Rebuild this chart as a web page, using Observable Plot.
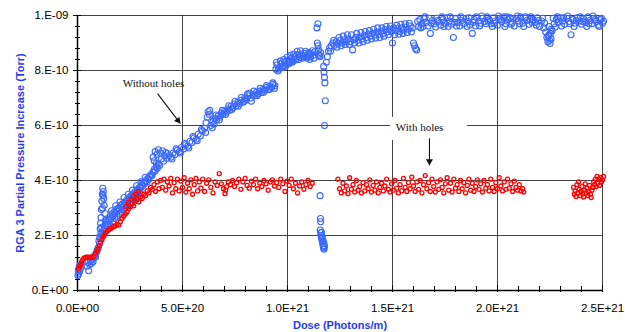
<!DOCTYPE html>
<html><head><meta charset="utf-8">
<script src="https://cdn.jsdelivr.net/npm/d3@7"></script>
<script src="https://cdn.jsdelivr.net/npm/@observablehq/plot@0.6"></script>
<style>html,body{margin:0;padding:0;background:#fff;}</style>
</head><body><div id="chart"></div>
<script>
// Units: x in 1E20 photons/m, y in 1E-10 Torr
const xTicks = [0, 5, 10, 15, 20, 25];
const xTickLabels = ["0.0E+00", "5.0E+20", "1.0E+21", "1.5E+21", "2.0E+21", "2.5E+21"];
const xMinorTicks = [1,2,3,4,6,7,8,9,11,12,13,14,16,17,18,19,21,22,23,24];
const yTicks = [0, 2, 4, 6, 8, 10];
const yTickLabels = ["0.E+00", "2.E-10", "4.E-10", "6.E-10", "8.E-10", "1.E-09"];
const yMinorTicks = [0.4,0.8,1.2,1.6,2.4,2.8,3.2,3.6,4.4,4.8,5.2,5.6,6.4,6.8,7.2,7.6,8.4,8.8,9.2,9.6];
const xLabel = "Dose (Photons/m)";
const yLabel = "RGA 3 Partial Pressure Increase (Torr)";

// "Without holes" series
const blueStart = [[0.02,0.55],[0.04,0.72],[0.06,0.62],[0.08,0.85],[0.1,0.7],[0.12,0.92],[0.14,0.8],[0.18,0.95],[0.45,0.88],[0.5,1.02],[0.53,0.72],[0.58,0.95],[0.62,1.08],[0.66,0.98],[0.7,1.12],[0.74,1.05],[0.78,1.2],[0.82,1.28],[0.86,1.22],[0.9,1.38],[0.94,1.45],[0.98,1.55]];
const blueSpike = [[1.05,1.7],[1.08,2.25],[1.1,2.45],[1.12,2.65],[1.14,2.95],[1.16,3.25],[1.18,3.5],[1.2,3.72],[1.23,3.6],[1.25,3.35],[1.27,3.1],[1.3,2.8],[1.33,2.55],[1.12,2.1],[1.15,2.3],[1.19,3.0],[1.22,3.45]];
const blueRise = [[1.02,1.8],[1.06,1.95],[1.1,1.88],[1.15,2.05],[1.2,2.0],[1.24,2.18],[1.28,2.25],[1.32,2.4],[1.36,2.35],[1.4,2.5],[1.44,2.42],[1.48,2.6],[1.52,2.55],[1.56,2.7],[1.6,2.62],[1.65,2.78],[1.7,2.72],[1.75,2.85],[1.8,2.8],[1.85,2.95],[1.9,2.88],[1.95,3.0],[2.0,2.95],[2.05,3.1],[2.1,3.02],[2.15,3.15],[2.2,3.08],[2.25,3.22],[2.3,3.18],[2.35,3.3],[2.4,3.25],[2.45,3.38],[2.5,3.32],[2.55,3.45],[2.6,3.4],[2.65,3.52],[2.7,3.48],[2.75,3.6],[2.8,3.55],[2.85,3.68],[2.9,3.62],[2.95,3.75],[3.0,3.72],[3.05,3.85],[3.1,3.8],[3.15,3.92],[3.2,3.88],[3.25,4.0],[3.3,3.95],[3.35,4.08],[3.4,4.05],[3.45,4.15],[3.5,4.22],[3.55,4.18],[3.6,4.3],[3.65,4.4],[3.7,4.35],[3.75,4.5],[3.8,4.45],[3.85,4.6],[3.9,4.55],
  [1.58,2.35],[1.68,2.5],[1.78,2.62],[1.88,2.7],[1.98,2.78],[2.08,2.85],[2.18,2.95],[2.28,3.0],[2.38,3.08],[2.48,3.15],[2.58,3.22],[2.68,3.3],[2.78,3.4],[2.88,3.5],[2.98,3.55],[1.62,2.9],[1.82,3.08],[2.02,3.22],[2.22,3.38],[2.42,3.5],[2.62,3.65],[2.82,3.82],[3.02,3.95],[3.22,4.12]];
const blueBump = [[3.6,4.85],[3.7,5.05],[3.78,4.95],[3.85,5.12],[3.95,5.0],[4.05,5.08],[4.15,4.9],[4.2,5.02],[3.65,4.72],[3.75,4.62],[4.0,4.78],[4.1,4.7]];
const blueMid = [[4.25,4.8],[4.35,4.9],[4.45,4.85],[4.55,5.0],[4.65,4.95],[4.75,5.1],[4.85,5.05],[4.95,5.2],[5.05,5.15],[5.15,5.3],[5.25,5.25],[5.35,5.42],[5.45,5.38],[5.55,5.55],[5.65,5.5],[5.75,5.68],[5.85,5.62],[5.95,5.8],[6.05,5.9],[6.12,6.1],[6.18,6.3],[6.22,6.5],[6.28,6.4],[6.35,6.0],[6.42,5.92],[6.5,6.05],[6.55,6.25],[6.62,6.2],[6.7,6.35],[6.78,6.3],[6.85,6.45],[6.92,6.4],[7.0,6.52],[7.08,6.48],[7.16,6.6],[7.24,6.55],[7.32,6.7],[7.4,6.65],[7.48,6.78],[7.56,6.72],[7.64,6.85],[7.72,6.8],[7.8,6.92],[7.88,6.85],[7.96,7.0],[8.04,6.95],[8.12,7.08],[8.2,7.18],[8.28,6.88],[8.36,7.12],[8.44,7.08],[8.52,7.2],[8.6,7.15],[8.68,7.25],[8.76,7.2],[8.84,7.32],[8.92,7.28],[9.0,7.38],[9.08,7.3],[9.16,7.42],[9.24,7.38],[9.32,7.5],[9.4,7.45],
  [4.3,4.98],[4.5,4.78],[4.7,5.15],[4.9,5.0],[5.1,5.35],[5.3,5.18],[5.5,5.6],[5.7,5.45],[5.9,5.85],[6.1,5.75],[6.3,6.55],[6.45,6.15],[6.6,6.38],[6.75,6.2],[6.9,6.55],[7.05,6.4],[7.2,6.72],[7.35,6.58],[7.5,6.88],[7.65,6.7],[7.8,7.02],[7.95,6.88],[8.1,7.15],[8.25,7.0],[8.4,7.25],[8.55,7.08],[8.7,7.35],[8.85,7.2],[9.0,7.45],[9.15,7.32],[9.3,7.55],[9.38,7.35]];
const blueHigh1 = [[9.45,8.05],[9.5,8.2],[9.55,7.98],[9.62,8.12],[9.7,8.25],[9.78,8.15],[9.86,8.3],[9.94,8.22],[10.02,8.38],[10.1,8.3],[10.18,8.45],[10.26,8.35],[10.34,8.5],[10.42,8.42],[10.5,8.58],[10.58,8.48],[10.66,8.6],[10.74,8.52],[10.82,8.62],[10.9,8.5],[10.98,8.6],[11.06,8.4],[11.14,8.62],[11.22,8.55],[11.3,8.68],
  [9.48,8.3],[9.58,8.05],[9.66,8.35],[9.74,8.1],[9.82,8.4],[9.9,8.15],[9.98,8.48],[10.06,8.25],[10.14,8.55],[10.22,8.3],[10.3,8.6],[10.38,8.38],[10.46,8.7],[10.54,8.4],[10.62,8.72],[10.7,8.45],[10.78,8.5],[10.86,8.7],[10.94,8.45],[11.02,8.65],[11.1,8.5],[11.18,8.72],[11.26,8.45]];
const blueDip = [[11.4,9.55],[11.45,9.7],[11.42,9.0],[11.45,8.9],[11.48,8.75],[11.5,8.6],[11.52,8.55],[11.55,8.5],[11.58,8.65],
  [11.72,8.15],[11.74,7.95],[11.76,7.75],[11.78,7.55],[11.8,6.9],[11.76,6.0],
  [11.55,3.45],[11.57,2.62],[11.58,2.5],[11.56,2.2],[11.58,2.1],[11.6,2.0],[11.62,1.92],[11.64,1.85],[11.66,1.78],[11.68,1.7],[11.7,1.62],[11.72,1.55],[11.74,1.5],[11.76,1.6],[11.62,2.12],[11.66,1.95],[11.7,1.8],[11.74,1.7]];
const blueHigh2 = [[11.85,8.3],[11.9,8.5],[11.95,8.7],[12.0,8.82],[12.08,8.9],[12.16,9.0],[12.24,8.92],[12.32,9.05],[12.4,8.98],[12.5,9.1],[12.6,9.0],[12.7,9.12],[12.8,9.05],[12.9,9.15],[13.0,9.05],[13.1,8.75],[13.15,9.12],[13.25,9.2],[13.35,9.1],[13.45,9.22],[13.55,9.15],[13.65,9.28],[13.75,9.2],[13.85,9.32],[13.95,9.25],[14.05,9.35],[14.15,9.28],[14.25,9.4],[14.35,9.32],[14.45,9.42],[14.55,9.35],[14.65,9.48],[14.75,9.4],[14.85,9.5],[14.95,9.42],[15.0,9.0],[15.05,9.55],[15.15,9.45],[15.25,9.52],[15.35,9.42],[15.45,9.55],[15.55,9.48],[15.65,9.58],[15.75,9.5],[15.85,9.62],[15.95,9.55],[16.0,9.0],[16.05,8.9],[16.1,8.8],[16.15,8.75],[16.2,9.78],[16.3,9.85],
  [12.05,8.7],[12.2,9.1],[12.35,8.85],[12.45,9.2],[12.55,8.9],[12.65,9.25],[12.75,8.95],[12.85,9.3],[12.95,8.95],[13.05,9.3],[13.2,9.0],[13.3,9.35],[13.4,9.0],[13.5,9.38],[13.6,9.05],[13.7,9.42],[13.8,9.1],[13.9,9.45],[14.0,9.15],[14.1,9.5],[14.2,9.18],[14.3,9.55],[14.4,9.2],[14.5,9.55],[14.6,9.25],[14.7,9.6],[14.8,9.3],[14.9,9.62],[15.1,9.3],[15.2,9.65],[15.3,9.32],[15.4,9.68],[15.5,9.35],[15.6,9.7],[15.7,9.38],[15.8,9.72],[15.9,9.4],[16.25,9.6],[16.35,9.55]];
const blueTop = [[16.4,9.7],[16.5,9.88],[16.6,9.75],[16.7,9.62],[16.8,9.35],[16.9,9.82],[17.0,9.7],[17.1,9.9],[17.2,9.78],[17.3,9.65],[17.4,9.85],[17.5,9.72],[17.6,9.92],[17.7,9.8],[17.8,9.68],[17.9,9.2],[18.0,9.88],[18.1,9.75],[18.2,9.62],[18.3,9.82],[18.4,9.7],[18.5,9.9],[18.6,9.78],[18.7,9.66],[18.8,9.35],[18.9,9.85],[19.0,9.95],[19.1,9.8],[19.2,9.72],[19.3,9.9],[19.4,9.78],[19.5,9.95],[19.6,9.85],[19.7,9.7],[19.8,9.92],[19.9,9.8],[20.0,9.65],[20.1,9.9],[20.2,9.78],[20.3,9.95],[20.4,9.7],[20.5,9.85],[20.6,9.92],[20.7,9.75],[20.8,9.62],[20.9,9.88],[21.0,9.8],[21.1,9.95],[21.2,9.72],[21.3,9.9],[21.4,9.82],[21.5,9.68],[21.6,9.95],[21.7,9.85],[21.8,9.75],[21.9,9.92],[22.0,9.6],[22.1,9.8],[22.2,9.55],[22.3,9.4],[22.35,9.2],[22.4,9.05],[22.45,9.3],[22.5,8.98],[22.55,9.15],[22.6,9.45],[22.65,9.9],[22.7,9.7],[22.8,9.85],[22.9,9.75],[23.0,9.92],[23.1,9.8],[23.2,9.68],[23.3,9.9],[23.4,9.78],[23.5,9.3],[23.6,9.85],[23.7,9.72],[23.8,9.92],[23.9,9.8],[24.0,9.68],[24.1,9.88],[24.2,9.75],[24.3,9.95],[24.4,9.82],[24.5,9.7],[24.6,9.9],[24.7,9.78],[24.8,9.65],[24.9,9.85],[25.0,9.72],[25.05,9.8],
  [16.45,9.6],[16.75,9.9],[17.05,9.58],[17.35,9.95],[17.65,9.6],[17.95,9.75],[18.25,9.95],[18.55,9.6],[18.85,9.75],[19.15,9.62],[19.45,9.7],[19.75,9.6],[20.05,9.98],[20.35,9.6],[20.65,9.68],[20.95,9.98],[21.25,9.6],[21.55,9.85],[21.85,9.65],[22.15,9.9],[22.45,9.6],[22.75,9.58],[23.05,9.62],[23.35,9.98],[23.65,9.6],[23.95,9.95],[24.25,9.6],[24.55,9.98],[24.85,9.6],
  [16.55,9.95],[16.85,9.72],[17.15,9.82],[17.45,9.6],[17.75,9.95],[18.05,9.62],[18.35,9.9],[18.65,9.92],[18.95,9.62],[19.25,9.98],[19.55,9.8],[19.85,9.72],[20.15,9.85],[20.45,9.95],[20.75,9.88],[21.05,9.7],[21.35,9.95],[21.65,9.75],[21.95,9.82],[22.25,9.72],[22.55,9.5],[22.42,9.25],[22.48,9.1],[22.52,9.35],[22.85,9.95],[23.15,9.92],[23.45,9.7],[23.75,9.82],[24.05,9.78],[24.35,9.7],[24.65,9.85],[24.95,9.9]];

// "With holes" series
const redStart = [[0.05,0.8],[0.1,0.88],[0.15,0.95],[0.2,1.05],[0.25,1.12],[0.3,1.18],[0.38,1.2],[0.46,1.22],[0.54,1.2],[0.62,1.21],[0.7,1.2],[0.78,1.25],[0.86,1.35],[0.92,1.45],[0.98,1.52],[1.04,1.62],[1.1,1.75],[1.16,1.85],[1.22,1.95],[1.28,2.02],[1.34,2.1],[1.4,2.15],[1.48,2.2],[1.56,2.25],[1.64,2.28],[1.72,2.32],[1.8,2.35],[1.88,2.4],[1.96,2.38],[2.04,2.5],[2.12,2.62],[2.2,2.7],[2.28,2.78],[2.36,2.85],[2.44,2.98],[2.52,3.05],[2.6,3.15],[2.68,3.08],[2.76,3.25],[2.84,3.3],[2.92,3.22],[3.0,3.4],[3.08,3.35],[3.16,3.5],[3.24,3.45],[3.32,3.62],[3.4,3.55],[3.48,3.75],[3.56,3.68],[3.64,3.85],[3.72,3.6],[3.8,3.95],[3.88,3.7],[3.96,4.0],[4.04,3.75],[4.12,4.05],[4.2,3.65],[4.28,3.95],[4.36,3.8],[4.44,4.08],[4.52,3.55],[4.6,3.92],[4.68,3.7],[4.76,4.05],[4.84,3.62],[4.92,3.98],[5.0,3.75],[5.08,4.1],[5.16,3.58],[5.24,3.9],[5.32,3.7],[5.4,4.02],[5.48,3.5],[5.56,3.85],[5.64,4.08],[5.72,3.62],[5.8,3.95],[5.88,3.72],[5.96,4.05],
  [2.3,3.05],[2.42,3.2],[2.54,3.3],[2.66,3.42],[2.78,3.5],[2.9,3.6]];
const redMid = [[6.05,3.6],[6.15,3.9],[6.25,4.02],[6.35,3.75],[6.45,3.55],[6.55,3.95],[6.65,3.82],[6.75,4.25],[6.85,3.88],[6.95,3.7],[7.02,3.52],[7.06,3.65],[7.1,3.78],[7.18,3.95],[7.28,3.85],[7.38,4.0],[7.48,3.78],[7.58,3.92],[7.68,4.05],[7.78,3.68],[7.88,3.95],[7.98,4.08],[8.08,3.82],[8.18,3.72],[8.28,3.98],[8.38,3.85],[8.48,4.05],[8.58,3.7],[8.68,3.9],[8.78,3.78],[8.88,4.0],[8.98,3.88],[9.08,3.65],[9.18,3.95],[9.28,4.02],[9.38,3.8],[9.48,3.92],[9.58,3.75],[9.68,4.05],[9.78,3.88],[9.88,3.6],[9.98,3.98],[10.08,3.82],[10.18,4.05],[10.28,3.7],[10.38,3.9],[10.48,3.55],[10.58,3.8],[10.68,3.95],[10.78,3.68],[10.88,3.85],[10.98,4.0],[11.08,3.78],[11.18,3.9]];
const redRight = [[12.4,4.05],[12.48,3.7],[12.56,3.55],[12.64,3.9],[12.72,3.62],[12.8,3.8],[12.88,3.52],[12.96,4.1],[13.04,3.68],[13.12,3.85],[13.2,3.58],[13.28,4.0],[13.36,3.65],[13.44,3.78],[13.52,3.55],[13.6,3.92],[13.68,3.62],[13.76,3.85],[13.84,3.7],[13.92,4.02],[14.0,3.58],[14.08,3.82],[14.16,3.65],[14.24,3.95],[14.32,3.55],[14.4,3.75],[14.48,3.9],[14.56,3.62],[14.64,3.8],[14.72,4.05],[14.8,3.68],[14.88,3.58],[14.96,3.88],[15.04,3.65],[15.12,4.0],[15.2,3.72],[15.28,3.55],[15.36,3.85],[15.44,3.62],[15.52,4.08],[15.6,3.75],[15.68,3.6],[15.76,3.92],[15.84,3.7],[15.92,4.12],[16.0,3.8],[16.08,3.6],[16.16,3.95],[16.24,3.68],[16.32,4.0],[16.4,3.55],[16.48,3.85],[16.56,4.18],[16.64,3.7],[16.72,3.92],[16.8,3.6],[16.88,4.05],[16.96,3.78],[17.04,3.58],[17.12,3.95],[17.2,3.68],[17.28,4.02],[17.36,3.75],[17.44,3.55],[17.52,3.88],[17.6,4.1],[17.68,3.65],[17.76,3.9],[17.84,3.58],[17.92,4.05],[18.0,3.72],[18.08,3.85],[18.16,3.6],[18.24,4.0],[18.32,3.7],[18.4,3.92],[18.48,3.55],[18.56,3.82],[18.64,4.05],[18.72,3.65],[18.8,3.9],[18.88,3.6],[18.96,3.78],[19.04,4.02],[19.12,3.68],[19.2,3.88],[19.28,3.58],[19.36,4.0],[19.44,3.72],[19.52,3.85],[19.6,3.62],[19.68,4.05],[19.76,3.75],[19.84,3.6],[19.92,3.92],[20.0,3.7],[20.08,4.1],[20.16,3.8],[20.24,3.62],[20.32,3.95],[20.4,3.68],[20.48,4.05],[20.56,3.72],[20.64,3.88],[20.72,3.6],[20.8,3.98],[20.88,3.75],[20.96,3.65],[21.04,3.85],[21.12,3.62],[21.2,3.7],[21.25,3.58]];
const redEnd = [[23.62,3.75],[23.66,3.5],[23.7,3.62],[23.74,3.42],[23.78,3.85],[23.82,3.55],[23.86,3.95],[23.9,3.68],[23.94,3.45],[23.98,3.6],[24.02,3.78],[24.06,3.52],[24.1,3.4],[24.14,3.65],[24.18,3.88],[24.22,3.55],[24.26,3.72],[24.3,3.45],[24.34,3.6],[24.38,3.82],[24.42,3.5],[24.46,3.38],[24.5,3.65],[24.54,3.75],[24.58,3.95],[24.62,3.85],[24.66,4.05],[24.7,3.78],[24.74,4.15],[24.78,3.9],[24.82,4.05],[24.86,3.82],[24.9,4.1],[24.95,3.95],[25.0,4.02],[25.05,4.15]];

// annotations (data units)
const noteText = ["Without holes", "With holes"];
const noteX = [3.62, 16.29];
const noteY = [7.53, 5.93];
const arrowFrom = [[3.81, 7.16], [16.76, 5.53]];
const arrowTo = [[4.9, 6.07], [16.76, 4.55]];

const rows = (pairs) => pairs.map(([x, y]) => ({x, y}));
const blue = rows([...blueStart, ...blueSpike, ...blueRise, ...blueBump, ...blueMid, ...blueHigh1, ...blueDip, ...blueHigh2, ...blueTop]);
const red = rows([...redStart, ...redMid, ...redRight, ...redEnd]);
const notes = noteText.map((t, i) => ({t, x: noteX[i], y: noteY[i]}));
const arrows = arrowFrom.map((f, i) => ({x1: f[0], y1: f[1], x2: arrowTo[i][0], y2: arrowTo[i][1]}));

const labelColor = "#1f3cf2";
const chart = Plot.plot({
  width: 625, height: 332,
  marginLeft: 77, marginRight: 23, marginTop: 15, marginBottom: 42,
  style: {fontFamily: "'Liberation Sans', Arial, sans-serif", fontSize: "11.5px", background: "#fff", color: "#000"},
  x: {domain: [0, 25]},
  y: {domain: [0, 10]},
  marks: [
    Plot.gridX(xTicks, {stroke: "#222", strokeOpacity: 0.85}),
    Plot.gridY(yTicks, {stroke: "#222", strokeOpacity: 0.85}),
    Plot.rect([notes[1]], {x1: "x", x2: "x", y1: "y", y2: "y", fill: "#fff", insetLeft: -29, insetRight: -48, insetTop: -10, insetBottom: -13}),
    Plot.ruleX([0], {stroke: "#000", strokeWidth: 1.5}),
    Plot.ruleY([0], {stroke: "#000", strokeWidth: 1.5}),
    Plot.axisX(xTicks, {tickSize: 7, dy: -5, fill: "none", label: null, stroke: "#000"}),
    Plot.axisX(xMinorTicks, {tickSize: 6, dy: -4, fill: "none", label: null, stroke: "#000"}),
    Plot.axisX(xTicks, {tickSize: 0, tickPadding: 13, tickFormat: (d) => xTickLabels[xTicks.indexOf(d)], label: null}),
    Plot.axisY(yTicks, {tickSize: 8, dx: 4, fill: "none", label: null, stroke: "#000"}),
    Plot.axisY(yMinorTicks, {tickSize: 5, dx: 3, fill: "none", label: null, stroke: "#000"}),
    Plot.axisY(yTicks, {tickSize: 0, tickPadding: 9, tickFormat: (d) => yTickLabels[yTicks.indexOf(d)], label: null}),
    Plot.dot(blue, {x: "x", y: "y", r: 3, stroke: "#3a68ff", strokeWidth: 1.1, fill: "none"}),
    Plot.dot(red, {x: "x", y: "y", r: 2, stroke: "#ff0000", strokeWidth: 1.3, fill: "none"}),
    Plot.text(notes, {x: "x", y: "y", text: "t", fontFamily: "'Liberation Serif', 'Times New Roman', serif", fontSize: 11, fill: "#111"}),
    Plot.link(arrows, {x1: "x1", y1: "y1", x2: "x2", y2: "y2", stroke: "#111", strokeWidth: 1.1}),
    Plot.dot([arrows[0]], {x: "x2", y: "y2", symbol: "triangle", r: 2.6, fill: "#111", stroke: "none", rotate: 142.5, dx: -2.4, dy: -3.2}),
    Plot.dot([arrows[1]], {x: "x2", y: "y2", symbol: "triangle", r: 2.6, fill: "#111", stroke: "none", rotate: 180, dy: -4}),
    Plot.text([yLabel], {frameAnchor: "left", textAnchor: "middle", dx: -57, rotate: -90, fill: labelColor, fontWeight: "bold", fontSize: 11}),
    Plot.text([xLabel], {frameAnchor: "bottom", dy: 38, fill: labelColor, fontWeight: "bold", fontSize: 11})
  ]
});
document.getElementById("chart").appendChild(chart);
</script>
</body></html>
